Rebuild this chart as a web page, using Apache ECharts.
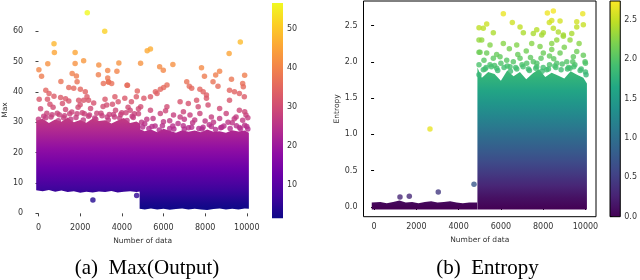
<!DOCTYPE html>
<html><head><meta charset="utf-8">
<script src="https://cdn.jsdelivr.net/npm/echarts@6/dist/echarts.min.js"></script>
<style>html,body{margin:0;padding:0;background:#fff}#c{width:640px;height:280px}</style>
</head><body><div id="c"></div>
<script>
// ---------- tick labels ----------
const ticksX = [0, 2000, 4000, 6000, 8000, 10000];
const ticksYA = [0, 10, 20, 30, 40, 50, 60];
const ticksYB = [0, 0.5, 1.0, 1.5, 2.0, 2.5];
const ticksCbA = [10, 20, 30, 40, 50];
const ticksCbB = [0, 0.5, 1.0, 1.5, 2.0, 2.5];

// ---------- (a) Max(Output): outline of the solid point clouds (x, lower edge, upper edge) ----------
const bandA1X  = [-110, 200, 500, 800, 1100, 1400, 1700, 2000, 2300, 2600, 2900, 3200, 3500, 3800, 4100, 4400, 4700, 4880];
const bandA1Lo = [7.6, 7.3, 7.7, 7.1, 7.5, 7.0, 7.3, 6.8, 7.1, 6.9, 7.2, 7.0, 7.4, 6.9, 7.1, 7.3, 7.0, 7.2];
const bandA1Hi = [30.5, 31.2, 29.8, 30.9, 30.2, 31.6, 30.0, 30.8, 29.9, 31.3, 30.4, 30.7, 29.6, 30.6, 31.4, 29.8, 30.3, 29.5];
const bandA2X  = [4855, 5100, 5400, 5700, 6000, 6300, 6600, 6900, 7200, 7500, 7800, 8100, 8400, 8700, 9000, 9300, 9600, 9900, 10100];
const bandA2Lo = [1.5, 1.3, 1.6, 1.3, 1.5, 1.2, 1.4, 1.6, 1.3, 1.5, 1.3, 1.1, 1.4, 1.6, 1.3, 1.5, 1.3, 1.6, 1.5];
const bandA2Hi = [27.8, 27.1, 27.6, 26.7, 27.9, 27.2, 26.6, 27.4, 26.9, 27.3, 26.7, 27.6, 26.9, 27.1, 26.6, 27.4, 27.0, 27.3, 26.6];
// (a) scattered points [x, max]
const pointsA = [
 [2342,66.1],[3180,60.0],[745,55.9],[763,53.0],[1758,53.0],[446,49.3],[19,47.3],[147,45.2],[1758,49.4],[2167,50.3],
 [2896,48.9],[3858,49.6],[4901,49.5],[2877,45.7],[3323,47.1],[3764,46.8],[1076,43.5],[1616,46.1],[1820,45.3],[3323,44.6],
 [3370,43.3],[4252,42.2],[4745,40.3],[5219,53.6],[5375,54.2],[5816,48.3],[5991,47.2],[6451,49.1],[7826,48.0],[7968,45.2],
 [8696,46.8],[8507,45.6],[9153,52.7],[9689,56.5],[9265,44.2],[9897,45.5],[9802,42.8],[9834,41.7],[8380,43.4],[8617,41.9],
 [7117,43.4],[7241,41.9],[7355,41.2],[6170,42.3],[6008,41.5],[5851,40.9],[5614,40.1],[7748,40.9],[7906,40.1],[8064,39.0],
 [9170,40.6],[9407,40.1],[9644,39.5],[9882,38.4],[5060,37.9],[5375,38.4],[5691,39.5],[6799,36.8],[7193,36.2],[7591,37.3],
 [7667,35.1],[8064,37.9],[8141,35.7],[8696,34.6],[9170,37.3],[9644,34.0],[9961,32.4],
 [4907,35.1],[5375,34.0],[5849,32.9],[6166,35.1],[6483,32.4],[6957,33.5],[7273,32.4],[7748,32.9],[8300,31.8],[8696,31.3],
 [9012,32.9],[9486,31.8],[9802,30.7],
 [5100,29.5],[5600,28.8],[6000,30.2],[6300,28.0],[6700,29.6],[7000,27.8],[7400,29.9],[7900,28.4],[8200,29.2],[8500,27.6],
 [8900,28.8],[9300,29.9],[9700,27.9],[10000,28.6],[5300,28.0],[5800,27.5],[6500,27.8],[7200,28.2],[7700,28.0],[8800,28.4],
 [9500,28.9],[9900,29.0],[6100,33.8],[7000,31.0],[8000,30.4],[9100,30.0],[5500,31.3],[9900,33.5],[5200,31.0],[6300,30.5],
 [6800,31.8],[7500,30.8],[8400,30.0],[9400,31.2],[10050,31.5],[4950,30.0],
 [5000,28.5],[5450,28.6],[5950,28.9],[6450,28.8],[6950,28.9],[7350,28.4],[7850,27.8],[8300,28.6],[8750,28.2],[9200,28.0],
 [9650,28.3],[10050,27.8],
 [351,40.6],[507,39.5],[33,37.6],[431,37.6],[744,38.6],[1062,38.2],[1299,37.8],[1455,37.0],[1929,37.3],[2166,37.3],
 [2403,37.3],[3195,37.6],[3276,35.7],[3669,38.4],[3826,36.8],[4143,37.9],[4460,36.8],[4697,38.4],[1455,41.5],[1692,41.2],
 [2010,40.9],[2247,40.1],[2327,38.4],[3351,43.3],[3512,42.8],[3114,42.8],[4271,42.2],[1853,43.4],
 [100,34.5],[400,33.0],[700,35.0],[1000,32.5],[1300,34.2],[1600,33.4],[1900,35.0],[2200,32.8],[2500,34.6],[2800,33.0],
 [3100,35.2],[3400,32.6],[3700,34.0],[4000,33.2],[4300,35.0],[4600,32.8],[250,32.0],[600,31.8],[900,33.0],[1200,31.5],
 [1500,32.8],[1800,31.6],[2100,33.2],[2400,32.0],[2700,31.4],[3000,33.0],[3300,31.8],[3600,32.6],[3900,31.4],[4200,33.2],
 [4500,32.0],[4800,32.8],[0,31.0],[4800,34.5],[550,36.0],[1150,36.2],[2000,35.8],[2650,36.4],[3550,36.0],[4400,34.0],
 [350,31.5],[650,32.5],[950,30.5],[1250,32.2],[1550,31.0],[1850,32.8],[2150,30.8],[2450,32.4],[2750,31.0],[3050,32.2],
 [3350,30.8],[3650,31.8],[3950,32.6],[4250,30.6],[4550,31.6],
 [2612,4.4],[4713,5.9]
];

// ---------- (b) Entropy ----------
const bandB1X  = [-110, 300, 600, 900, 1200, 1500, 1800, 2100, 2400, 2700, 3000, 3300, 3600, 3900, 4200, 4500, 4880];
const bandB1Lo = [-0.035, -0.035, -0.035, -0.035, -0.035, -0.035, -0.035, -0.035, -0.035, -0.035, -0.035, -0.035, -0.035, -0.035, -0.035, -0.035, -0.035];
const bandB1Hi = [0.06, 0.07, 0.05, 0.07, 0.09, 0.06, 0.07, 0.05, 0.07, 0.08, 0.06, 0.07, 0.08, 0.06, 0.05, 0.06, 0.06];
const bandB2X  = [4890, 5100, 5400, 5700, 6000, 6300, 6600, 6900, 7200, 7500, 7800, 8100, 8400, 8700, 9000, 9300, 9600, 9900, 10070];
const bandB2Lo = [-0.035, -0.035, -0.035, -0.035, -0.035, -0.035, -0.035, -0.035, -0.035, -0.035, -0.035, -0.035, -0.035, -0.035, -0.035, -0.035, -0.035, -0.035, -0.035];
const bandB2Hi = [1.92, 1.78, 1.86, 1.83, 1.74, 1.88, 1.80, 1.86, 1.76, 1.84, 1.90, 1.79, 1.85, 1.81, 1.77, 1.87, 1.82, 1.78, 1.70];
// (b) scattered points [x, entropy]
const pointsB = [
 [6116,2.66],[8198,2.67],[8482,2.70],[9873,2.66],[5329,2.52],[5168,2.46],[5642,2.40],[6541,2.54],[6906,2.48],[7062,2.40],
 [7535,2.39],[7696,2.44],[8292,2.54],[8406,2.57],[8799,2.56],[8008,2.40],[7932,2.37],[8482,2.46],[8718,2.41],[8955,2.37],
 [9352,2.39],[9589,2.48],[9589,2.55],[9901,2.51],[5093,2.30],[5012,2.13],[5486,2.23],[6116,2.25],[6749,2.23],[7459,2.25],
 [7852,2.21],[8406,2.25],[8643,2.30],[8955,2.35],[9272,2.30],[8406,2.17],[8008,2.12],[9589,2.14],[9901,2.09],[9982,2.00],
 [9428,2.07],[9116,2.00],[5329,2.12],[5642,2.05],[5959,2.07],[6276,2.02],[6588,2.00],[6906,2.05],[7222,1.98],[7535,2.00],
 [5486,1.96],[5803,1.91],[6432,1.93],[7696,1.93],[8643,1.98],[9272,1.91],[8169,1.89],[5168,1.89],[4965,2.47],[4965,2.30],
 [4965,2.13],[4965,1.96],[4965,1.82],
 [5300,1.92],[5700,1.95],[6000,1.98],[6300,1.94],[6700,1.92],[7000,1.96],[7300,1.90],[7700,1.98],[8000,1.92],[8300,1.96],
 [8600,1.92],[8900,1.97],[9200,1.92],[9500,1.96],[9800,1.90],[10000,1.86],[7900,2.05],[8300,2.08],[8800,2.12],[9700,2.25],
 [6400,2.18],[5800,2.10],[7200,2.15],[9000,2.20],[5200,2.02],[6800,2.10],[7400,2.06],[8500,2.04],[9400,2.00],[10000,1.98],
 [5250,1.90],[5550,1.93],[5850,1.88],[6150,1.92],[6450,1.87],[6750,1.90],[7050,1.93],[7350,1.88],[7650,1.91],[7950,1.87],
 [8250,1.90],[8550,1.94],[8850,1.89],[9150,1.90],[9450,1.93],[9750,1.88],[10030,1.82]
];
// (b) points whose colour differs from their height [x, entropy, colour value]
const pointsBSpecial = [
 [2645,1.074,2.65],[3038,0.207,0.45],[4728,0.312,0.75],[1226,0.138,0.30],[1666,0.147,0.32]
];

// ---------- colour maps ----------
const plasma = ['#0d0887','#41049d','#6a00a8','#8f0da4','#b12a90','#cc4778','#e16462','#f2844b','#fca636','#fcce25','#f0f921'];
const viridis = ['#440154','#482475','#414487','#355f8d','#2a788e','#21918c','#22a884','#44bf70','#7ad151','#bddf26','#fde725'];
const rangeA = [1.75, 66];
const rangeB = [0, 2.74];
const cbRangeA = [1.46, 56.67];
const cbRangeB = [0, 2.74];

function hx(h){return [parseInt(h.slice(1,3),16),parseInt(h.slice(3,5),16),parseInt(h.slice(5,7),16)];}
function cmap(stops, t){
  t = Math.max(0, Math.min(1, t));
  const n = stops.length - 1, f = t * n, i = Math.min(Math.floor(f), n - 1), r = f - i;
  const a = hx(stops[i]), b = hx(stops[i+1]);
  return 'rgb(' + a.map((v,k)=>Math.round(v + (b[k]-v)*r)).join(',') + ')';
}
// one polygon per dense cloud, vertices placed through the axis scales
function bandSeries(xi, xs, lo, hi, stops, range){
  return {
    type:'custom', xAxisIndex:xi, yAxisIndex:xi, silent:true,
    data:xs.map((x,i)=>[x, lo[i], hi[i]]),
    encode:{x:0, y:[1,2]},
    renderItem:function(params, api){
      if (params.dataIndex !== 0) return null;
      const pts = [];
      for (let i=0;i<xs.length;i++) pts.push(api.coord([xs[i], hi[i]]));
      for (let i=xs.length-1;i>=0;i--) pts.push(api.coord([xs[i], lo[i]]));
      const top = Math.max.apply(null, hi), bot = Math.min.apply(null, lo);
      const cs = [];
      for (let k=0;k<=12;k++){
        const v = top - (top-bot)*k/12;
        cs.push({offset:k/12, color:cmap(stops,(v-range[0])/(range[1]-range[0]))});
      }
      return {type:'polygon', shape:{points:pts},
        style:{fill:new echarts.graphic.LinearGradient(0,0,0,1,cs)}};
    }
  };
}
function colorbarSeries(xi, stops, border){
  return {
    type:'custom', xAxisIndex:xi, yAxisIndex:xi, data:[[0.5]], silent:true,
    renderItem:function(params, api){
      const cs = params.coordSys;
      const g = [];
      for(let k=0;k<stops.length;k++) g.push({offset:k/(stops.length-1), color:stops[stops.length-1-k]});
      return {type:'rect', shape:{x:cs.x, y:cs.y, width:cs.width, height:cs.height},
        style:{fill:new echarts.graphic.LinearGradient(0,0,0,1,g), stroke:border?'#000':null, lineWidth:border?1:0}};
    }
  };
}

const TXT = '#333';
const FONT = 'DejaVu Sans';
function xAx(gi, spine, gapName){
  return {type:'value', gridIndex:gi, min:-500, max:10500, name:'Number of data', nameLocation:'middle', nameGap:gapName,
    nameTextStyle:{fontSize:7.5, color:TXT, fontFamily:FONT},
    axisLine:{show:false}, splitLine:{show:false},
    axisTick:{show:true, length:3, lineStyle:{color:spine?'#000':'#444', width:1}, customValues:ticksX},
    axisLabel:{fontSize:8, color:TXT, fontFamily:FONT, margin:6, customValues:ticksX, formatter:v=>String(v)}};
}

const chart = echarts.init(document.getElementById('c'), null, {renderer:'canvas'});
chart.setOption({
  animation:false,
  backgroundColor:'#fff',
  grid:[
    {left:25.8, top:1.9, width:231.4, height:216.3},
    {left:363.5, top:1, width:232.5, height:215.7, show:true, borderColor:'#000', borderWidth:1, backgroundColor:'transparent'},
    {left:272, top:3, width:11, height:215.3},
    {left:610, top:1, width:11, height:215.7}
  ],
  xAxis:[
    xAx(0, false, 17),
    xAx(1, true, 18),
    {type:'value', gridIndex:2, min:0, max:1, show:false},
    {type:'value', gridIndex:3, min:0, max:1, show:false}
  ],
  yAxis:[
    {type:'value', gridIndex:0, min:-1.6, max:69.7, name:'Max', nameLocation:'middle', nameGap:18.5,
      nameTextStyle:{fontSize:7.5, color:TXT, fontFamily:FONT},
      axisLine:{show:false}, splitLine:{show:false},
      axisTick:{show:true, length:3, lineStyle:{color:'#444'}, customValues:ticksYA},
      axisLabel:{fontSize:8, color:TXT, fontFamily:FONT, margin:5, customValues:ticksYA}},
    {type:'value', gridIndex:1, min:-0.134, max:2.837, name:'Entropy', nameLocation:'middle', nameGap:21,
      nameTextStyle:{fontSize:7.5, color:TXT, fontFamily:FONT},
      axisLine:{show:false}, splitLine:{show:false},
      axisTick:{show:true, length:3, lineStyle:{color:'#000'}, customValues:ticksYB},
      axisLabel:{fontSize:8, color:TXT, fontFamily:FONT, margin:6, customValues:ticksYB, formatter:v=>Number(v).toFixed(1)}},
    {type:'value', gridIndex:2, min:cbRangeA[0], max:cbRangeA[1], position:'right',
      axisLine:{show:false}, splitLine:{show:false},
      axisTick:{show:true, length:2.5, lineStyle:{color:'#444'}, customValues:ticksCbA},
      axisLabel:{fontSize:8, color:TXT, fontFamily:FONT, margin:4, customValues:ticksCbA}},
    {type:'value', gridIndex:3, min:cbRangeB[0], max:cbRangeB[1], position:'right',
      axisLine:{show:false}, splitLine:{show:false},
      axisTick:{show:true, length:2.5, lineStyle:{color:'#000'}, customValues:ticksCbB},
      axisLabel:{fontSize:8, color:TXT, fontFamily:FONT, margin:4, customValues:ticksCbB, formatter:v=>Number(v).toFixed(1)}}
  ],
  visualMap:[
    {type:'continuous', show:false, seriesIndex:2, dimension:1, min:rangeA[0], max:rangeA[1], inRange:{color:plasma}},
    {type:'continuous', show:false, seriesIndex:5, dimension:1, min:rangeB[0], max:rangeB[1], inRange:{color:viridis}},
    {type:'continuous', show:false, seriesIndex:6, dimension:2, min:rangeB[0], max:rangeB[1], inRange:{color:viridis}}
  ],
  series:[
    bandSeries(0, bandA1X, bandA1Lo, bandA1Hi, plasma, rangeA),
    bandSeries(0, bandA2X, bandA2Lo, bandA2Hi, plasma, rangeA),
    {type:'scatter', xAxisIndex:0, yAxisIndex:0, data:pointsA, symbolSize:5.5, silent:true},
    bandSeries(1, bandB1X, bandB1Lo, bandB1Hi, viridis, rangeB),
    bandSeries(1, bandB2X, bandB2Lo, bandB2Hi, viridis, rangeB),
    {type:'scatter', xAxisIndex:1, yAxisIndex:1, data:pointsB, symbolSize:5.5, silent:true},
    {type:'scatter', xAxisIndex:1, yAxisIndex:1, data:pointsBSpecial, symbolSize:5.5, silent:true},
    colorbarSeries(2, plasma, false),
    colorbarSeries(3, viridis, true)
  ],
  graphic:[
    {type:'text', style:{text:'(a)  Max(Output)', x:147, y:268, font:'21px "Liberation Serif"', fill:'#000', textAlign:'center', textVerticalAlign:'middle'}},
    {type:'text', style:{text:'(b)  Entropy', x:487.5, y:268, font:'21px "Liberation Serif"', fill:'#000', textAlign:'center', textVerticalAlign:'middle'}}
  ]
});
</script></body></html>
